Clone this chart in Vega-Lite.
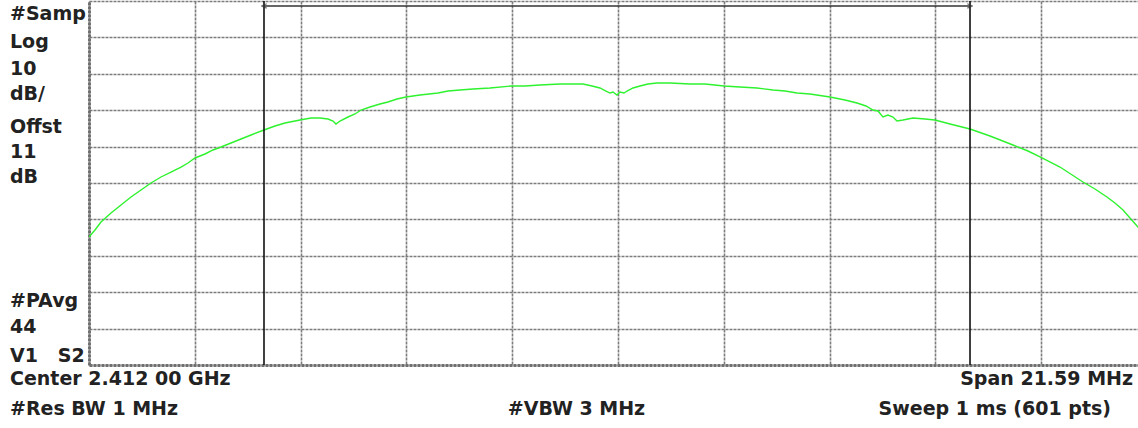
{
  "$schema": "https://vega.github.io/schema/vega-lite/v6.json",
  "width": 1049,
  "height": 364,
  "autosize": {"type": "none"},
  "padding": {"left": 89, "top": 1, "right": 0, "bottom": 63},
  "background": "white",
  "config": {
    "view": {"stroke": null},
    "font": "DejaVu Sans",
    "axis": {
      "labels": false, "ticks": false, "title": null,
      "grid": true, "gridColor": "#7c7c7c", "gridWidth": 1.6, "gridDash": [3, 1],
      "domain": true, "domainColor": "#707070", "domainWidth": 3, "domainDash": [3, 1]
    }
  },
  "datasets": {
    "trace": [
      {"freq": -10.795, "level": -44.84}, {"freq": -10.673, "level": -42.91}, {"freq": -10.550, "level": -40.72},
      {"freq": -10.346, "level": -38.24}, {"freq": -10.142, "level": -36.04}, {"freq": -9.938, "level": -33.85},
      {"freq": -9.734, "level": -31.92}, {"freq": -9.530, "level": -30.00}, {"freq": -9.326, "level": -28.35},
      {"freq": -9.122, "level": -26.98}, {"freq": -8.917, "level": -25.61}, {"freq": -8.775, "level": -24.51},
      {"freq": -8.632, "level": -23.13}, {"freq": -8.428, "level": -22.03}, {"freq": -8.265, "level": -20.93},
      {"freq": -8.101, "level": -20.11}, {"freq": -7.897, "level": -19.01}, {"freq": -7.693, "level": -17.91},
      {"freq": -7.489, "level": -16.81}, {"freq": -7.224, "level": -15.44}, {"freq": -7.000, "level": -14.34},
      {"freq": -6.795, "level": -13.52}, {"freq": -6.591, "level": -12.97}, {"freq": -6.489, "level": -12.69},
      {"freq": -6.265, "level": -12.14}, {"freq": -6.081, "level": -12.14}, {"freq": -5.918, "level": -12.42},
      {"freq": -5.815, "level": -12.97}, {"freq": -5.755, "level": -13.79}, {"freq": -5.673, "level": -12.97},
      {"freq": -5.510, "level": -11.87}, {"freq": -5.367, "level": -11.04}, {"freq": -5.245, "level": -9.95},
      {"freq": -5.061, "level": -9.12}, {"freq": -4.857, "level": -8.30}, {"freq": -4.694, "level": -7.75},
      {"freq": -4.510, "level": -6.92}, {"freq": -4.326, "level": -6.37}, {"freq": -4.041, "level": -5.82},
      {"freq": -3.673, "level": -5.28}, {"freq": -3.469, "level": -4.73}, {"freq": -3.224, "level": -4.45},
      {"freq": -2.959, "level": -4.18}, {"freq": -2.612, "level": -3.90}, {"freq": -2.184, "level": -3.35},
      {"freq": -1.898, "level": -3.35}, {"freq": -1.592, "level": -3.08}, {"freq": -1.184, "level": -2.80},
      {"freq": -0.714, "level": -2.80}, {"freq": -0.531, "level": -3.35}, {"freq": -0.368, "level": -3.90},
      {"freq": -0.245, "level": -4.73}, {"freq": -0.163, "level": -5.28}, {"freq": -0.102, "level": -5.00},
      {"freq": -0.021, "level": -5.82}, {"freq": 0.041, "level": -5.00}, {"freq": 0.122, "level": -5.28},
      {"freq": 0.184, "level": -4.73}, {"freq": 0.306, "level": -3.90}, {"freq": 0.449, "level": -3.35},
      {"freq": 0.612, "level": -2.80}, {"freq": 0.796, "level": -2.53}, {"freq": 1.061, "level": -2.53},
      {"freq": 1.469, "level": -2.80}, {"freq": 1.775, "level": -2.80}, {"freq": 2.163, "level": -3.35},
      {"freq": 2.489, "level": -3.63}, {"freq": 2.836, "level": -3.90}, {"freq": 3.163, "level": -4.45},
      {"freq": 3.408, "level": -4.73}, {"freq": 3.652, "level": -5.28}, {"freq": 3.918, "level": -5.55},
      {"freq": 4.326, "level": -6.37}, {"freq": 4.632, "level": -7.20}, {"freq": 4.877, "level": -8.02},
      {"freq": 5.060, "level": -8.85}, {"freq": 5.203, "level": -9.95}, {"freq": 5.305, "level": -10.22},
      {"freq": 5.407, "level": -11.87}, {"freq": 5.509, "level": -11.32}, {"freq": 5.611, "level": -11.87},
      {"freq": 5.693, "level": -12.97}, {"freq": 5.816, "level": -12.69}, {"freq": 5.918, "level": -12.42},
      {"freq": 6.020, "level": -12.14}, {"freq": 6.265, "level": -12.42}, {"freq": 6.469, "level": -12.69},
      {"freq": 6.775, "level": -13.79}, {"freq": 7.183, "level": -15.17}, {"freq": 7.591, "level": -17.09},
      {"freq": 8.060, "level": -19.56}, {"freq": 8.366, "level": -21.21}, {"freq": 8.652, "level": -23.13},
      {"freq": 9.019, "level": -25.61}, {"freq": 9.488, "level": -29.73}, {"freq": 9.733, "level": -31.65},
      {"freq": 9.978, "level": -33.85}, {"freq": 10.141, "level": -35.50}, {"freq": 10.305, "level": -37.42},
      {"freq": 10.447, "level": -39.62}, {"freq": 10.611, "level": -42.09}, {"freq": 10.795, "level": -45.20}
    ],
    "markers": [{"freq": -7.224}, {"freq": 7.183}],
    "span": [{"from": -7.224, "to": 7.183, "level": 18.63}],
    "notes": [
      {"text": "#Samp", "freq": -12.407, "level": 14.78, "side": "left"},
      {"text": "Log", "freq": -12.407, "level": 7.09, "side": "left"},
      {"text": "10", "freq": -12.407, "level": -0.33, "side": "left"},
      {"text": "dB/", "freq": -12.407, "level": -7.20, "side": "left"},
      {"text": "Offst", "freq": -12.407, "level": -16.26, "side": "left"},
      {"text": "11", "freq": -12.407, "level": -23.13, "side": "left"},
      {"text": "dB", "freq": -12.407, "level": -30.00, "side": "left"},
      {"text": "#PAvg", "freq": -12.407, "level": -64.07, "side": "left"},
      {"text": "44", "freq": -12.407, "level": -71.21, "side": "left"},
      {"text": "V1\u00a0\u00a0\u00a0S2", "freq": -12.407, "level": -79.18, "side": "left"},
      {"text": "Center 2.412 00 GHz", "freq": -12.407, "level": -85.50, "side": "left"},
      {"text": "#Res BW 1 MHz", "freq": -12.407, "level": -93.74, "side": "left"},
      {"text": "#VBW 3 MHz", "freq": -0.847, "level": -93.74, "side": "center"},
      {"text": "Span 21.59 MHz", "freq": 10.509, "level": -85.50, "side": "right"},
      {"text": "Sweep 1 ms (601 pts)", "freq": 10.060, "level": -93.74, "side": "right"}
    ]
  },
  "layer": [
    {
      "data": {"name": "trace"},
      "mark": {"type": "line", "color": "#2ef22e", "strokeWidth": 1.4, "clip": true},
      "encoding": {
        "x": {
          "field": "freq", "type": "quantitative",
          "scale": {"domain": [-10.795, 10.611], "nice": false, "zero": false},
          "axis": {"values": [-10.795, -8.636, -6.477, -4.318, -2.159, 0, 2.159, 4.318, 6.477, 8.636]}
        },
        "y": {
          "field": "level", "type": "quantitative",
          "scale": {"domain": [-80, 20], "nice": false, "zero": false},
          "axis": {"values": [-80, -70, -60, -50, -40, -30, -20, -10, 0, 10, 20]}
        }
      }
    },
    {
      "mark": {"type": "rule", "color": "#707070", "strokeWidth": 3, "strokeDash": [3, 1]},
      "encoding": {
        "y": {"datum": 20, "type": "quantitative", "axis": {"values": [-80, -70, -60, -50, -40, -30, -20, -10, 0, 10, 20]}}
      }
    },
    {
      "data": {"name": "markers"},
      "mark": {"type": "rule", "color": "#111111", "strokeWidth": 1.6},
      "encoding": {
        "x": {"field": "freq", "type": "quantitative", "axis": {"values": [-10.795, -8.636, -6.477, -4.318, -2.159, 0, 2.159, 4.318, 6.477, 8.636]}}
      }
    },
    {
      "data": {"name": "span"},
      "mark": {"type": "rule", "color": "#333333", "strokeWidth": 1.3},
      "encoding": {
        "x": {"field": "from", "type": "quantitative", "axis": {"values": [-10.795, -8.636, -6.477, -4.318, -2.159, 0, 2.159, 4.318, 6.477, 8.636]}},
        "x2": {"field": "to"},
        "y": {"field": "level", "type": "quantitative", "axis": {"values": [-80, -70, -60, -50, -40, -30, -20, -10, 0, 10, 20]}}
      }
    },
    {
      "data": {"name": "span"},
      "mark": {"type": "point", "shape": "M-1,0L1,-0.8M-1,0L1,0.8", "filled": false, "color": "#333333", "size": 30, "strokeWidth": 1.2},
      "encoding": {
        "x": {"field": "from", "type": "quantitative", "axis": {"values": [-10.795, -8.636, -6.477, -4.318, -2.159, 0, 2.159, 4.318, 6.477, 8.636]}},
        "y": {"field": "level", "type": "quantitative", "axis": {"values": [-80, -70, -60, -50, -40, -30, -20, -10, 0, 10, 20]}}
      }
    },
    {
      "data": {"name": "span"},
      "mark": {"type": "point", "shape": "M1,0L-1,-0.8M1,0L-1,0.8", "filled": false, "color": "#333333", "size": 30, "strokeWidth": 1.2},
      "encoding": {
        "x": {"field": "to", "type": "quantitative", "axis": {"values": [-10.795, -8.636, -6.477, -4.318, -2.159, 0, 2.159, 4.318, 6.477, 8.636]}},
        "y": {"field": "level", "type": "quantitative", "axis": {"values": [-80, -70, -60, -50, -40, -30, -20, -10, 0, 10, 20]}}
      }
    },
    {
      "data": {"name": "notes"},
      "transform": [{"filter": "datum.side == 'left'"}],
      "mark": {"type": "text", "align": "left", "baseline": "alphabetic", "font": "DejaVu Sans", "fontWeight": "bold", "fontSize": 19, "color": "#222222"},
      "encoding": {
        "x": {"field": "freq", "type": "quantitative", "axis": {"values": [-10.795, -8.636, -6.477, -4.318, -2.159, 0, 2.159, 4.318, 6.477, 8.636]}},
        "y": {"field": "level", "type": "quantitative", "axis": {"values": [-80, -70, -60, -50, -40, -30, -20, -10, 0, 10, 20]}},
        "text": {"field": "text"}
      }
    },
    {
      "data": {"name": "notes"},
      "transform": [{"filter": "datum.side == 'center'"}],
      "mark": {"type": "text", "align": "center", "baseline": "alphabetic", "font": "DejaVu Sans", "fontWeight": "bold", "fontSize": 19, "color": "#222222"},
      "encoding": {
        "x": {"field": "freq", "type": "quantitative", "axis": {"values": [-10.795, -8.636, -6.477, -4.318, -2.159, 0, 2.159, 4.318, 6.477, 8.636]}},
        "y": {"field": "level", "type": "quantitative", "axis": {"values": [-80, -70, -60, -50, -40, -30, -20, -10, 0, 10, 20]}},
        "text": {"field": "text"}
      }
    },
    {
      "data": {"name": "notes"},
      "transform": [{"filter": "datum.side == 'right'"}],
      "mark": {"type": "text", "align": "right", "baseline": "alphabetic", "font": "DejaVu Sans", "fontWeight": "bold", "fontSize": 19, "color": "#222222"},
      "encoding": {
        "x": {"field": "freq", "type": "quantitative", "axis": {"values": [-10.795, -8.636, -6.477, -4.318, -2.159, 0, 2.159, 4.318, 6.477, 8.636]}},
        "y": {"field": "level", "type": "quantitative", "axis": {"values": [-80, -70, -60, -50, -40, -30, -20, -10, 0, 10, 20]}},
        "text": {"field": "text"}
      }
    }
  ]
}
